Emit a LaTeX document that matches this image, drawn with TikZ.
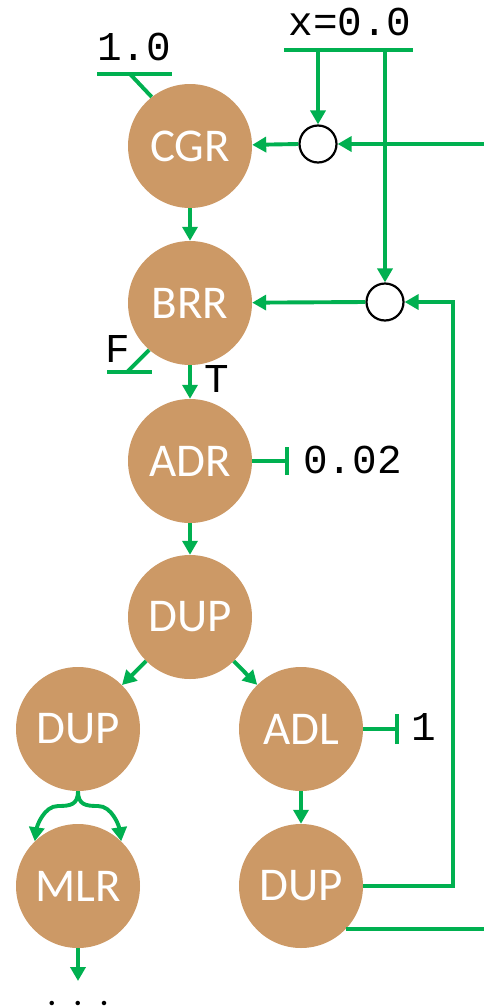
\documentclass[tikz,border=0pt]{standalone}
\usepackage{fontspec}
\setmainfont{Carlito}
\newfontfamily\monof{Liberation Mono}
\usetikzlibrary{arrows.meta}
\definecolor{gr}{RGB}{0,176,80}
\definecolor{br}{RGB}{204,153,102}
\begin{document}
\begin{tikzpicture}[x=1pt,y=-1pt,
 op/.style={circle,fill=br,minimum size=124pt,inner sep=0pt,text=white,font=\fontsize{47}{47}\selectfont},
 junc/.style={circle,draw=black,line width=2.2pt,fill=white,minimum size=37pt,inner sep=0pt},
 wire/.style={draw=gr,line width=3.9pt},
 arr/.style={wire,-{Triangle[length=14pt,width=15pt]}},
 lbl/.style={font=\monof\fontsize{41}{41}\selectfont,inner sep=0pt}
]
\useasboundingbox (0,0) rectangle (484,1007);
% operator nodes
\node[op] (cgr) at (190,146) {CGR};
\node[op] (brr) at (190,303) {BRR};
\node[op] (adr) at (190,461) {ADR};
\node[op] (dup1) at (190,617) {DUP};
\node[op] (dup2) at (78,729) {DUP};
\node[op] (adl) at (301,729) {ADL};
\node[op] (mlr) at (78,886) {MLR};
\node[op] (dup3) at (301,886) {DUP};
\node[junc] (j1) at (318,144) {};
\node[junc] (j2) at (385,302) {};
% labels
\node[lbl,anchor=base] (xl) at (350,35) {x=0.0};
\node[lbl,anchor=base] (one0) at (134,60) {1.0};
\node[lbl,anchor=base] (fl) at (118,362) {F};
\node[lbl,anchor=base] (tl) at (217,392) {T};
\node[lbl,anchor=base west] (c002) at (303,473) {0.02};
\node[lbl,anchor=base] (c1) at (424,740) {1};
\node[font=\fontsize{30}{30}\selectfont\bfseries,inner sep=0pt,anchor=base] (dots) at (78,1005) {.\hspace{18pt}.\hspace{18pt}.};
% coordinates
\coordinate (xa) at (284,50);
\coordinate (xb) at (413,50);
\coordinate (xt) at (318,50);
\coordinate (xr) at (385,50);
\coordinate (in1) at (484,144);
\coordinate (oa) at (97,74);
\coordinate (ob) at (172,74);
\coordinate (ot) at (130,74);
\coordinate (fa) at (107,372);
\coordinate (fb) at (152,372);
\coordinate (ft) at (127,372);
\coordinate (adrbar) at (287,461);
\coordinate (adlbar) at (397,729);
\coordinate (fbk) at (453,302);
\coordinate (out2) at (484,928);
\coordinate (de) at (78,981);
% top inputs
\draw[wire] (xa) -- (xb);
\draw[arr] (xt) -- (j1.north);
\draw[arr] (xr) -- (j2.north);
\draw[arr] (in1) -- (j1.east);
\draw[arr] (j1.west) -- (cgr);
\draw[wire] (oa) -- (ob);
\draw[wire] (ot) -- (cgr.128);
% main chain
\draw[arr] (cgr) -- (brr);
\draw[arr] (j2.west) -- (brr);
\draw[wire] (fa) -- (fb);
\draw[wire] (ft) -- (brr.-131);
\draw[arr] (brr) -- (adr);
\draw[wire] (adr.east) -- (adrbar);
\draw[wire] ([yshift=-14pt]adrbar) -- ([yshift=14pt]adrbar);
\draw[arr] (adr) -- (dup1);
\draw[arr] (dup1) -- (dup2);
\draw[arr] (dup1) -- (adl);
\draw[wire] (adl.east) -- (adlbar);
\draw[wire] ([yshift=-15pt]adlbar) -- ([yshift=15pt]adlbar);
\draw[arr] (adl) -- (dup3);
\draw[arr] (dup3.east) -| (fbk) -- (j2.east);
\draw[wire] (dup3.-44) -- (dup3.-44 -| out2);
% split to MLR
\draw[arr] (dup2.south) .. controls (78,805) and (70,806) .. (58,806) .. controls (44,806) and (37,826) .. (mlr.134);
\draw[arr] (dup2.south) .. controls (78,805) and (86,806) .. (98,806) .. controls (112,806) and (119,826) .. (mlr.46);
\draw[arr] (mlr.south) -- (de);
\end{tikzpicture}
\end{document}
